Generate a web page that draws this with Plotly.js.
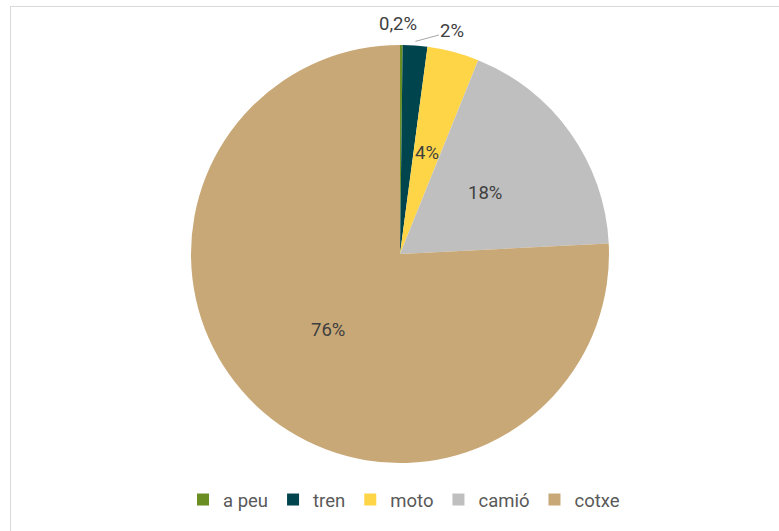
<!DOCTYPE html>
<html>
<head>
<meta charset="utf-8">
<script src="https://cdn.plot.ly/plotly-3.0.1.min.js"></script>
<style>
  html, body { margin: 0; padding: 0; background: #ffffff; overflow: hidden; }
  #frame { position: absolute; left: 10px; top: 6px; width: 900px; height: 700px;
           border-left: 1.5px solid #d9d9d9; border-top: 1.5px solid #d9d9d9; }
  #chart { position: absolute; left: 0; top: 0; width: 779px; height: 531px; }
</style>
</head>
<body>
<div id="frame"></div>
<div id="chart"></div>
<script>
// Data
const categories = ['a peu', 'tren', 'moto', 'camió', 'cotxe'];
const values = [0.2, 1.9, 4.0, 18.1, 75.8];
const valueLabels = ['0,2%', '2%', '4%', '18%', '76%'];
const colors = ['#6b8e23', '#00444d', '#ffd548', '#bfbfbf', '#c9a877'];

// Geometry (pixels)
const W = 779, H = 531;
const cx = 400, cy = 254, R = 209;

const domain = {
  x: [(cx - R) / W, (cx + R) / W],
  y: [1 - (cy + R) / H, 1 - (cy - R) / H]
};

// Label placement computed from values
const total = values.reduce((a, b) => a + b, 0);
let cum = 0;
const annotations = [];
values.forEach((v, i) => {
  const mid = (cum + v / 2) / total * 2 * Math.PI;
  cum += v;
  const pt = (k) => ({
    x: (cx + Math.sin(mid) * R * k) / W,
    y: 1 - (cy - Math.cos(mid) * R * k) / H
  });
  const base = { text: valueLabels[i], xref: 'paper', yref: 'paper',
                 font: { family: 'Roboto, sans-serif', size: 18.5, color: '#404040' } };
  if (i === 0) {
    const p = pt(1.1);
    annotations.push(Object.assign(base, { x: p.x - 3 / W, y: p.y, showarrow: false,
      xanchor: 'center', yanchor: 'middle' }));
  } else if (i === 1) {
    const p = pt(1.02);
    annotations.push(Object.assign(base, { x: p.x, y: p.y, showarrow: true,
      arrowhead: 0, arrowwidth: 1, arrowcolor: '#a6a6a6', ax: 37, ay: -10, standoff: 0 }));
  } else {
    const p = pt(0.5);
    annotations.push(Object.assign(base, { x: p.x, y: p.y, showarrow: false,
      xanchor: 'center', yanchor: 'middle' }));
  }
});

const trace = {
  type: 'pie',
  labels: categories,
  values: values,
  sort: false,
  direction: 'clockwise',
  rotation: 0,
  domain: domain,
  marker: { colors: colors, line: { width: 0 } },
  textinfo: 'none',
  hoverinfo: 'label+percent'
};

const layout = {
  width: W, height: H,
  margin: { l: 0, r: 0, t: 0, b: 0 },
  paper_bgcolor: 'rgba(0,0,0,0)',
  plot_bgcolor: 'rgba(0,0,0,0)',
  font: { family: 'Roboto, sans-serif', size: 18.5, color: '#595959' },
  showlegend: true,
  legend: {
    orientation: 'h',
    x: 404 / W, xanchor: 'center',
    y: 1 - 500 / H, yanchor: 'middle',
    font: { family: 'Roboto, sans-serif', size: 18.5, color: '#595959' },
    itemwidth: 30,
    traceorder: 'normal'
  },
  annotations: annotations
};

Plotly.newPlot('chart', [trace], layout, { displayModeBar: false, staticPlot: true });
</script>
</body>
</html>
